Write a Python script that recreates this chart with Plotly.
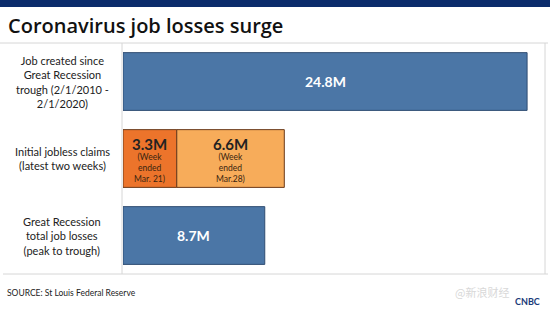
import plotly.graph_objects as go

categories = ["Job created since<br>Great Recession<br>trough (2/1/2010 -<br>2/1/2020)",
              "Initial jobless claims<br>(latest two weeks)",
              "Great Recession<br>total job losses<br>(peak to trough)"]
blue_values = [24.8, None, 8.7]
week1_value = 3.3
week2_value = 6.6
week1_note = "(Week<br>ended<br>Mar. 21)"
week2_note = "(Week<br>ended<br>Mar.28)"

W, H = 550, 309
x0, x1 = 123, 545
y_top, y_bot = 43, 274

fig = go.Figure()
ypos = [0, 1, 2]
fig.add_trace(go.Bar(y=[0, 2], x=[blue_values[0], blue_values[2]], orientation="h",
                     marker=dict(color="#4b76a6", line=dict(color="#2f4d72", width=1)),
                     width=0.75, showlegend=False, hoverinfo="skip"))
fig.add_trace(go.Bar(y=[1], x=[week1_value], orientation="h",
                     marker=dict(color="#ec742b", line=dict(color="#6b3a1a", width=1)),
                     width=0.75, showlegend=False, hoverinfo="skip"))
fig.add_trace(go.Bar(y=[1], x=[week2_value], base=[week1_value], orientation="h",
                     marker=dict(color="#f7ac5a", line=dict(color="#6b3a1a", width=1)),
                     width=0.75, showlegend=False, hoverinfo="skip"))

font = "Lato, 'Open Sans', sans-serif"
ann = []
for yi, v in [(0, blue_values[0]), (2, blue_values[2])]:
    ann.append(dict(x=v / 2, y=yi, xref="x", yref="y", text="<b>%.1fM</b>" % v, showarrow=False,
                    font=dict(family=font, size=14, color="white")))
for base, v, note in [(0, week1_value, week1_note), (week1_value, week2_value, week2_note)]:
    ann.append(dict(x=base + v / 2, y=1, xref="x", yref="y", text="<b>%.1fM</b>" % v, showarrow=False,
                    yshift=15, font=dict(family=font, size=15, color="#222")))
    ann.append(dict(x=base + v / 2, y=1, xref="x", yref="y", text=note, showarrow=False,
                    yshift=-9, font=dict(family=font, size=8.5, color="#3a2410")))
for yi, c in zip(ypos, categories):
    ann.append(dict(x=62 / W, y=yi, xref="paper", yref="y", text=c, showarrow=False,
                    xanchor="center", font=dict(family=font, size=11, color="#222")))
ann.append(dict(x=6 / W, y=1 - 25 / H, xref="paper", yref="paper", text="Coronavirus job losses surge",
                showarrow=False, xanchor="left", yanchor="middle",
                font=dict(family="'Open Sans', sans-serif", size=20, weight=600, color="#111")))
ann.append(dict(x=5 / W, y=1 - 293 / H, xref="paper", yref="paper", text="SOURCE: St Louis Federal Reserve",
                showarrow=False, xanchor="left", yanchor="middle",
                font=dict(family=font, size=8.5, color="#222")))
ann.append(dict(x=482 / W, y=1 - 292 / H, xref="paper", yref="paper", text="@新浪财经",
                showarrow=False, xanchor="center", yanchor="middle",
                font=dict(family="Noto Sans CJK SC", size=11, color="#d8d8d8")))
ann.append(dict(x=527 / W, y=1 - 301 / H, xref="paper", yref="paper", text="<b>CNBC</b>",
                showarrow=False, xanchor="center", yanchor="middle",
                font=dict(family=font, size=9, color="#1a3a78")))

line = dict(color="#d6d6d6", width=1)
shapes = [
    dict(type="rect", xref="paper", yref="paper", x0=0, x1=1, y0=1 - 7 / H, y1=1,
         fillcolor="#0b2c6b", line=dict(width=0)),
    dict(type="line", xref="paper", yref="paper", x0=0, x1=548 / W, y0=1 - y_top / H, y1=1 - y_top / H, line=line),
    dict(type="line", xref="paper", yref="paper", x0=3 / W, x1=548 / W, y0=1 - y_bot / H, y1=1 - y_bot / H, line=line),
    dict(type="line", xref="paper", yref="paper", x0=122 / W, x1=122 / W, y0=1 - y_bot / H, y1=1 - y_top / H, line=line),
    dict(type="line", xref="paper", yref="paper", x0=x1 / W, x1=x1 / W, y0=1 - y_bot / H, y1=1 - y_top / H, line=line),
]

fig.update_layout(
    width=W, height=H, margin=dict(l=0, r=0, t=0, b=0),
    paper_bgcolor="white", plot_bgcolor="white",
    barmode="overlay",
    xaxis=dict(domain=[x0 / W, x1 / W], range=[0, 25.9], visible=False, fixedrange=True),
    yaxis=dict(domain=[1 - y_bot / H, 1 - y_top / H], range=[2.5, -0.5], visible=False, fixedrange=True),
    annotations=ann, shapes=shapes,
)
fig.write_html("out.html")
